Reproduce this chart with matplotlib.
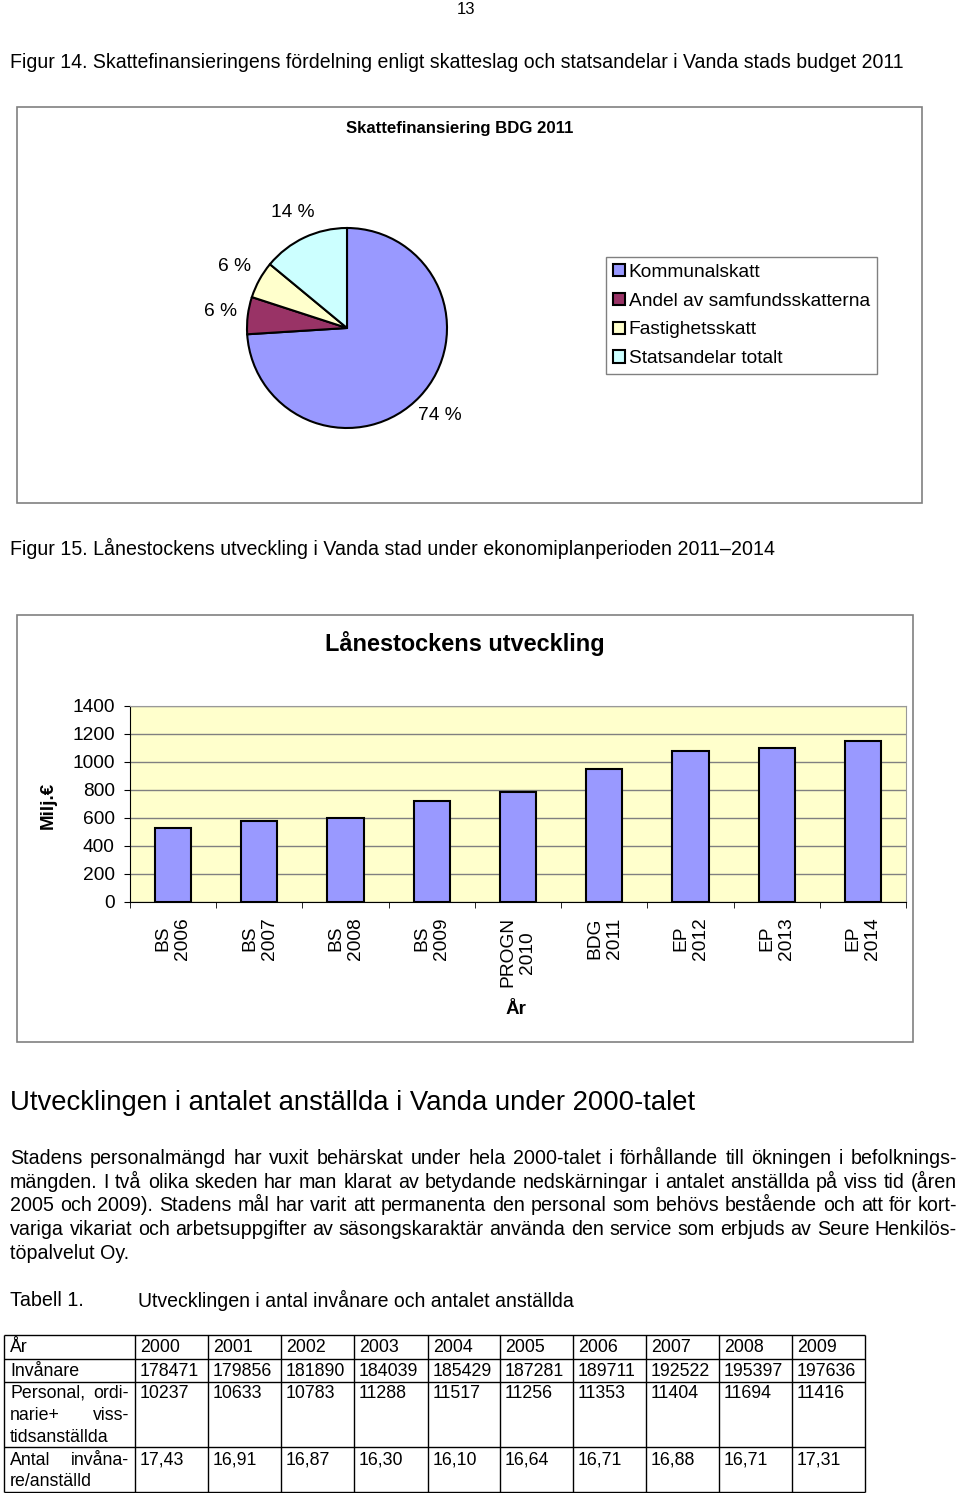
import matplotlib
matplotlib.use("Agg")
import matplotlib.pyplot as plt
from matplotlib.patches import Rectangle
import numpy as np

plt.rcParams['font.family'] = ['Liberation Sans', 'DejaVu Sans']

# Figur 14 - Skattefinansiering BDG 2011
pie_labels = ["Kommunalskatt", "Andel av samfundsskatterna",
              "Fastighetsskatt", "Statsandelar totalt"]
pie_shares = [74, 6, 6, 14]
pie_colors = ["#9999FF", "#993366", "#FFFFCC", "#CCFFFF"]

# Figur 15 - Lånestockens utveckling (Milj.€)
loan_cats = ["BS\n2006", "BS\n2007", "BS\n2008", "BS\n2009", "PROGN\n2010",
             "BDG\n2011", "EP\n2012", "EP\n2013", "EP\n2014"]
loan_vals = [526, 579, 598, 721, 786, 952, 1076, 1098, 1148]

# Tabell 1
years = [2000, 2001, 2002, 2003, 2004, 2005, 2006, 2007, 2008, 2009]
invanare = [178471, 179856, 181890, 184039, 185429, 187281, 189711, 192522, 195397, 197636]
personal = [10237, 10633, 10783, 11288, 11517, 11256, 11353, 11404, 11694, 11416]
per_anstalld = [17.43, 16.91, 16.87, 16.30, 16.10, 16.64, 16.71, 16.88, 16.71, 17.31]

paragraph = [
    "Stadens personalmängd har vuxit behärskat under hela 2000-talet i förhållande till ökningen i befolknings-",
    "mängden. I två olika skeden har man klarat av betydande nedskärningar i antalet anställda på viss tid (åren",
    "2005 och 2009). Stadens mål har varit att permanenta den personal som behövs bestående och att för kort-",
    "variga vikariat och arbetsuppgifter av säsongskaraktär använda den service som erbjuds av Seure Henkilös-",
    "töpalvelut Oy.",
]

W, H = 960, 1493
fig = plt.figure(figsize=(W / 100, H / 100), dpi=100)

# page layer in pixel coordinates (y downwards)
page = fig.add_axes([0, 0, 1, 1])
page.set_xlim(0, W)
page.set_ylim(H, 0)
page.axis("off")

renderer = fig.canvas.get_renderer()


def measure(s, size, **kw):
    t = page.text(0, 0, s, fontsize=size, **kw)
    w = t.get_window_extent(renderer).width
    t.remove()
    return w


def put(x, y, s, size, width=None, ha="left", va="center", **kw):
    if width:
        size = size * width / measure(s, size, **kw)
    return page.text(x, y, s, fontsize=size, ha=ha, va=va, **kw)


def justify(line, x0, x1, y, size, **kw):
    # y is the baseline
    words = line.split()
    ws = [measure(w, size, **kw) for w in words]
    gap = (x1 - x0 - sum(ws)) / max(len(words) - 1, 1)
    x = x0
    for w, wd in zip(words, ws):
        page.text(x, y, w, fontsize=size, ha="left", va="baseline", **kw)
        x += wd + gap


def box(x0, y0, x1, y1):
    page.add_patch(Rectangle((x0, y0), x1 - x0, y1 - y0, fill=False,
                             edgecolor="#808080", lw=1.2))


# header texts
put(466, 9, "13", 12, ha="center")
put(10, 63, "Figur 14. Skattefinansieringens fördelning enligt skatteslag och "
    "statsandelar i Vanda stads budget 2011", 12.5, width=894)

# ---- pie chart ----
box(17, 107, 922, 503)
put(460, 128, "Skattefinansiering BDG 2011", 12, width=227, ha="center",
    weight="bold")

cx, cy, r = 347, 328, 100
ax_pie = fig.add_axes([(cx - r) / W, 1 - (cy + r) / H, 2 * r / W, 2 * r / H])
wedges, texts, autotexts = ax_pie.pie(
    pie_shares, colors=pie_colors, startangle=90, counterclock=False,
    autopct="%1.0f %%", pctdistance=1.28,
    wedgeprops=dict(edgecolor="black", linewidth=1.5),
    textprops=dict(fontsize=13.8))
ax_pie.set_xlim(-1, 1)
ax_pie.set_ylim(-1, 1)
ax_pie.set_aspect("equal")

fig.legend(wedges, pie_labels, loc="upper left",
           bbox_to_anchor=(606 / W, 1 - 257 / H), bbox_transform=fig.transFigure,
           borderaxespad=0, fontsize=13.8, frameon=True, fancybox=False,
           edgecolor="#808080", framealpha=1, labelspacing=0.62,
           handlelength=0.62, handleheight=0.62, handletextpad=0.22,
           borderpad=0.35)

# ---- bar chart ----
put(10, 548, "Figur 15. Lånestockens utveckling i Vanda stad under "
    "ekonomiplanperioden 2011–2014", 12.5, width=763)
box(17, 615, 913, 1042)
put(465, 643, "Lånestockens utveckling", 16, width=279, ha="center",
    weight="bold")

ax = fig.add_axes([130 / W, 1 - 902 / H, 776 / W, 196 / H])
x = np.arange(len(loan_vals))
ax.bar(x, loan_vals, width=0.42, color="#9999FF", edgecolor="black",
       linewidth=1.5, zorder=3)
ax.set_facecolor("#FFFFCC")
ax.set_xlim(-0.5, len(loan_vals) - 0.5)
ax.set_ylim(0, 1400)
ax.set_yticks(range(0, 1401, 200))
ax.grid(axis="y", color="#808080", lw=1)
ax.set_axisbelow(True)
ax.set_xticks(x)
ax.set_xticklabels(loan_cats, rotation=90, ha="center", va="top",
                   multialignment="center")
ax.set_xticks(np.arange(-0.5, len(loan_vals)), minor=True)
ax.tick_params(axis="x", which="major", length=0, pad=11, labelsize=13.8)
ax.tick_params(axis="x", which="minor", length=4, direction="out")
ax.tick_params(axis="y", length=4, pad=7, labelsize=13.8)
for s in ["top", "right"]:
    ax.spines[s].set_color("#999999")
put(48, 805, "Milj.€", 13.5, ha="center", rotation=90, weight="bold")
put(516, 1009, "År", 13.5, ha="center", weight="bold")

# ---- text section ----
put(10, 1103, "Utvecklingen i antalet anställda i Vanda under 2000-talet", 18,
    width=687)

# font size chosen so the longest line fills the text column
p_size = 12 * min(945 / measure(l, 12) for l in paragraph[:-1])
para_base = [1164, 1187.5, 1211, 1235, 1259]
for i, (line, y) in enumerate(zip(paragraph, para_base)):
    if i < len(paragraph) - 1:
        justify(line, 10, 957, y, p_size)
    else:
        page.text(10, y, line, fontsize=p_size, va="baseline")

put(10, 1300, "Tabell 1.", 12.5, width=74)
put(138, 1300, "Utvecklingen i antal invånare och antalet anställda", 12,
    width=437)

# ---- table ----
col_x = [4, 135, 208, 281, 354, 428, 500, 573, 646, 719, 792, 865]
row_y = [1335, 1359, 1382, 1447, 1492]
page.hlines(row_y, col_x[0], col_x[-1], color="black", lw=1)
page.vlines(col_x, row_y[0], row_y[-1], color="black", lw=1)

ts = 12.8
put(10, 1348, "År", ts)
put(10, 1371, "Invånare", ts)
justify("Personal, ordi-", 10, 129, 1398, ts)
justify("narie+ viss-", 10, 129, 1420, ts)
put(10, 1437, "tidsanställda", ts)
justify("Antal invåna-", 10, 129, 1465, ts)
put(10, 1482, "re/anställd", ts)
for j in range(len(years)):
    cx0 = col_x[j + 1] + 5
    put(cx0, 1348, str(years[j]), ts)
    put(cx0, 1371, str(invanare[j]), ts)
    put(cx0, 1393, str(personal[j]), ts)
    put(cx0, 1460, f"{per_anstalld[j]:.2f}".replace(".", ","), ts)

fig.savefig("out.png", dpi=100)
